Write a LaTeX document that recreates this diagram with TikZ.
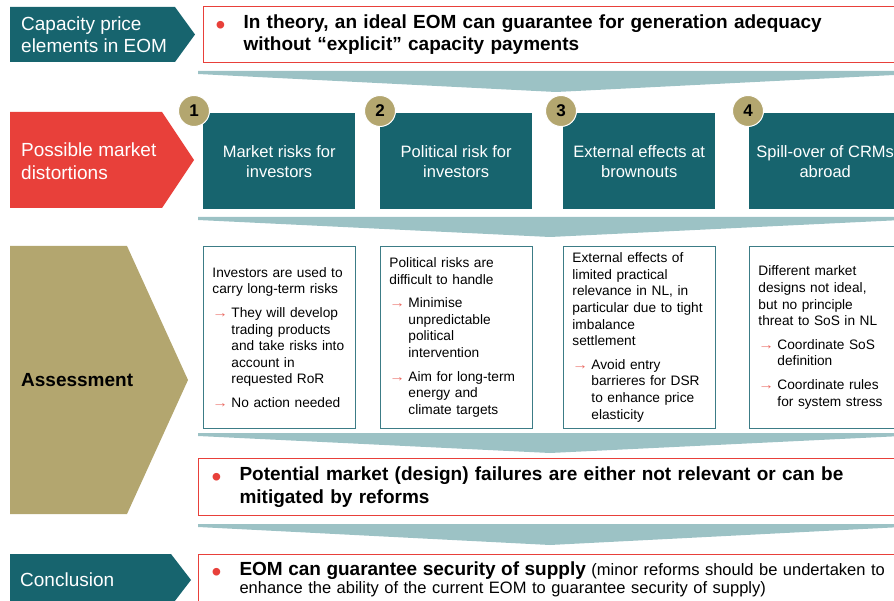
\documentclass[tikz,border=0pt]{standalone}
\usepackage{fontspec}
\setmainfont{Liberation Sans}
\usepackage{xcolor}
\definecolor{eomteal}{HTML}{17646E}
\definecolor{eomred}{HTML}{E8403A}
\definecolor{eomolive}{HTML}{B3A66F}
\definecolor{eomfunnel}{HTML}{9CC2C5}
\definecolor{eomedge}{HTML}{3C7C86}
\definecolor{eomarrow}{HTML}{EA6A62}
\newcommand{\arritem}{\par\vskip7pt\noindent\hangindent=19pt\hangafter=1%
  \makebox[19pt][l]{\textcolor{eomarrow}{\scalebox{1.15}[1]{→}}}}
\newcommand{\redbullet}{\noindent\hangindent=28pt\hangafter=1%
  \makebox[28pt][l]{\textcolor{eomred}{\raisebox{-6pt}{\fontsize{28}{0}\selectfont•}}}}

\begin{document}
\begin{tikzpicture}[x=1pt,y=-1pt,
  lefttag/.style={font=\fontsize{19}{22.5}\selectfont, text=white, align=left, anchor=west, inner sep=0pt},
  topicbox/.style={fill=eomteal, text=white, minimum width=152pt, minimum height=96pt, anchor=north west,
    align=center, inner sep=0pt, font=\fontsize{16.5}{20}\selectfont},
  numdot/.style={circle, fill=eomolive, draw=white, line width=1pt, minimum size=31pt, inner sep=0pt,
    font=\fontsize{17}{17}\selectfont\bfseries},
  notebox/.style={draw=eomedge, line width=0.9pt, fill=white, anchor=north west, text width=134pt,
    inner xsep=9pt, inner ysep=0pt, minimum height=182pt, align=left, font=\fontsize{13.7}{16.6}\selectfont},
  claimbox/.style={draw=eomred, line width=1pt, fill=white, anchor=north west, text width=680pt,
    inner ysep=0pt, align=left, font=\fontsize{19}{22.5}\selectfont}]
  \useasboundingbox (0,0) rectangle (894,601);
  \clip (0,0) rectangle (894,601);
  % left column tags
  \fill[eomteal] (10,7) -- (175,7) -- (195,34.5) -- (175,62) -- (10,62) -- cycle;
  \node[lefttag] (tagcap) at (21,34.5) {Capacity price\\elements in EOM};
  \fill[eomred] (10,112) -- (162,112) -- (194,160) -- (162,208) -- (10,208) -- cycle;
  \node[lefttag] (tagdist) at (21,161) {Possible market\\distortions};
  \fill[eomolive] (10,246) -- (127,246) -- (188,380) -- (127,514) -- (10,514) -- cycle;
  \node[lefttag, text=black, font=\fontsize{19}{22}\selectfont\bfseries] (tagassess) at (21,380) {Assessment};
  \fill[eomteal] (10,554) -- (171,554) -- (191,580) -- (171,606) -- (10,606) -- cycle;
  \node[lefttag] (tagconcl) at (20,579.5) {Conclusion};
  % funnels
  \fill[eomfunnel] (198,71) -- (914,71) -- (914,74) -- (556,92) -- (198,74) -- cycle;
  \fill[eomfunnel] (198,217) -- (902,217) -- (902,220) -- (550,237) -- (198,220) -- cycle;
  \fill[eomfunnel] (198,433) -- (902,433) -- (902,436) -- (550,453) -- (198,436) -- cycle;
  \fill[eomfunnel] (198,524) -- (902,524) -- (902,527) -- (550,545) -- (198,527) -- cycle;
  % statement boxes
  \node[claimbox, inner xsep=12pt, minimum height=56pt] (theory) at (203,6)
    {\redbullet\textbf{In theory, an ideal EOM can guarantee for generation adequacy\newline
     without “explicit” capacity payments}\par};
  \node[claimbox, inner xsep=13pt, minimum height=57pt] (failures) at (198,458)
    {\redbullet\textbf{Potential market (design) failures are either not relevant or can be\newline
     mitigated by reforms}\par};
  \node[claimbox, inner xsep=13pt, minimum height=50pt, font=\fontsize{16.5}{18.5}\selectfont] (supply) at (198,554)
    {\redbullet{\fontsize{19}{18.5}\selectfont\bfseries EOM can guarantee security of supply} (minor reforms should be undertaken to\newline
     enhance the ability of the current EOM to guarantee security of supply)\par};
  % distortion topics
  \node[topicbox] (risk1) at (203,113) {Market risks for\\investors};
  \node[topicbox] (risk2) at (380,113) {Political risk for\\investors};
  \node[topicbox] (risk3) at (563,113) {External effects at\\brownouts};
  \node[topicbox] (risk4) at (749,113) {Spill-over of CRMs\\abroad};
  \node[numdot] (n1) at (194,111) {1};
  \node[numdot] (n2) at (380,111) {2};
  \node[numdot] (n3) at (561,111) {3};
  \node[numdot] (n4) at (748,111) {4};
  % assessment notes
  \node[notebox] (note1) at (203,246) {\noindent Investors are used to\newline carry long-term risks
    \arritem They will develop\newline trading products\newline and take risks into\newline account in\newline requested RoR
    \arritem No action needed\par};
  \node[notebox] (note2) at (380,246) {\noindent Political risks are\newline difficult to handle
    \arritem Minimise\newline unpredictable\newline political\newline intervention
    \arritem Aim for long-term\newline energy and\newline climate targets\par};
  \node[notebox] (note3) at (563,246) {\noindent External effects of\newline limited practical\newline relevance in NL, in\newline
    particular due to tight\newline imbalance\newline settlement
    \arritem Avoid entry\newline barrieres for DSR\newline to enhance price\newline elasticity\par};
  \node[notebox] (note4) at (749,246) {\noindent Different market\newline designs not ideal,\newline but no principle\newline threat to SoS in NL
    \arritem Coordinate SoS\newline definition
    \arritem Coordinate rules\newline for system stress\par};
\end{tikzpicture}
\end{document}
